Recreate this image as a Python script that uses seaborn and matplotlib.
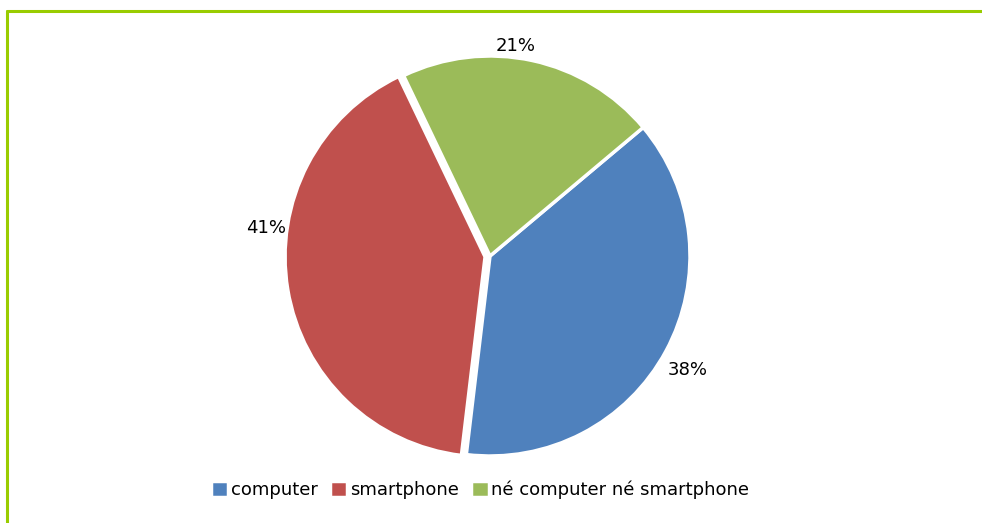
import matplotlib
matplotlib.use("Agg")
import matplotlib.pyplot as plt
import seaborn as sns
import numpy as np
from matplotlib.lines import Line2D

categories = ["computer", "smartphone", "né computer né smartphone"]
values = [38, 41, 21]
colors = ["#4F81BD", "#C0504D", "#9BBB59"]
explode = [0.0, 0.025, 0.0]
# label placement (clockwise degrees from 12 o'clock, radius in pie radii)
label_angles_cw = [120, 277, 7]
label_radii = [1.14, 1.13, 1.06]

sns.set_theme(style="white")
plt.rcParams['font.family'] = ['DejaVu Sans']

W, H = 982, 523
fig = plt.figure(figsize=(W / 100, H / 100), dpi=100)
cx, cy, r = 490, 256, 200
ax = fig.add_axes([(cx - r) / W, 1 - (cy + r) / H, 2 * r / W, 2 * r / H])

wedges, texts, autotexts = ax.pie(
    values, colors=colors, startangle=40, counterclock=False,
    explode=explode, autopct='%d%%', pctdistance=1.13,
    wedgeprops=dict(edgecolor="white", linewidth=2.5),
    textprops=dict(fontsize=13, color="#000000"))
for t, a, rr in zip(autotexts, label_angles_cw, label_radii):
    th = np.deg2rad(90 - a)
    t.set_position((rr * np.cos(th), rr * np.sin(th)))
    t.set_clip_on(False)
ax.set_xlim(-1, 1)
ax.set_ylim(-1, 1)
ax.set_aspect('equal')
ax.axis('off')

leg = fig.legend(wedges, categories, loc='center', bbox_to_anchor=(480 / W, 1 - 490 / H),
                 ncol=3, frameon=False, fontsize=13, handlelength=0.95, handleheight=0.95,
                 handletextpad=0.15, columnspacing=0.7)
for t in leg.get_texts():
    t.set_color("#000000")

green = "#99CC00"
fig.add_artist(Line2D([6.5 / W, 1.0], [1 - 11 / H, 1 - 11 / H], color=green, lw=2.2,
                      transform=fig.transFigure))
fig.add_artist(Line2D([6.5 / W, 6.5 / W], [0, 1 - 11 / H], color=green, lw=2.2,
                      transform=fig.transFigure))

fig.savefig("out.png", dpi=100)
